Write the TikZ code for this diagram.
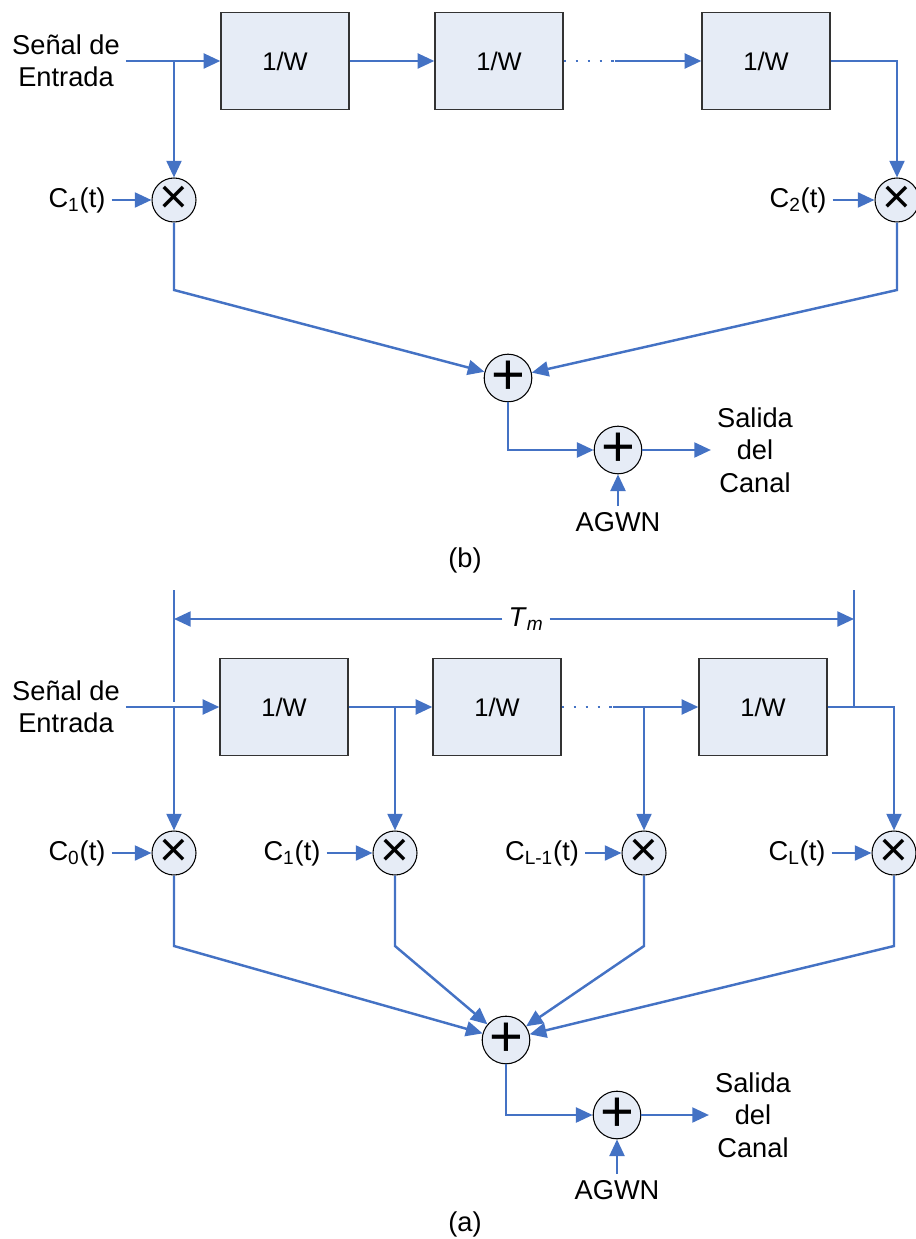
\documentclass[tikz,border=0pt]{standalone}
\usepackage{fontspec}
\setmainfont{Liberation Sans}
\usepackage{tikz}
\usetikzlibrary{arrows.meta}
\definecolor{sigblue}{RGB}{68,114,196}
\definecolor{cellfill}{RGB}{230,236,246}
\tikzset{
  font={\fontsize{15.5pt}{18.5pt}\selectfont}}
\tikzset{
  delay/.style={draw=black!80, fill=cellfill, line width=0.8pt,
    minimum width=2.56cm, minimum height=1.94cm,
    font={\fontsize{14.5pt}{16pt}\selectfont}},
  mult/.style={circle, draw=black, fill=cellfill, line width=0.6pt,
    minimum size=0.88cm, inner sep=0pt},
  sig/.style={draw=sigblue, line width=1.4pt},
  tip/.style={-{Triangle[length=9.5pt,width=8.5pt]}},
  dots/.style={dash pattern={on 1.4pt off 5.4pt}},
  tick/.style={draw=sigblue, line width=0.8pt}}

\begin{document}
\begin{tikzpicture}[x=0.02cm,y=0.02cm]
\useasboundingbox (0,0) rectangle (915,-1239);
% ---- (b) ----
\node [align=center] (inB) at (66,-61) {Señal de\\Entrada};
\node [delay] (b1) at (285,-61) {1/W};
\node [delay] (b2) at (499,-61) {1/W};
\node [delay] (b3) at (766,-61) {1/W};
\coordinate (jB0) at (174,-61);
\coordinate (dB) at (615,-61);
\node [mult] (mB1) at (174,-200) {\fontsize{28pt}{28pt}\selectfont ×};
\node [mult] (mB2) at (897,-200) {\fontsize{28pt}{28pt}\selectfont ×};
\node (cB1) at (77,-200) {C\textsubscript{1}(t)};
\node (cB2) at (798,-200) {C\textsubscript{2}(t)};
\coordinate (kB1) at (174,-290);
\coordinate (kB2) at (897,-290);
\node [mult] (sB) at (508,-378) {\fontsize{33pt}{33pt}\selectfont +};
\node [mult] (nB) at (618,-450) {\fontsize{33pt}{33pt}\selectfont +};
\node [align=center] (outB) at (755,-450) {Salida\\del\\Canal};
\node (agwnB) at (618,-522) {AGWN};
\node (capB) at (465,-560) {(b)};
\draw [sig,tip] (inB.east) -- (b1.west);
\draw [sig,tip] (jB0) -- (mB1);
\draw [sig,tip] (b1) -- (b2);
\draw [sig,dots] (b2) -- (dB);
\draw [sig,tip] (dB) -- (b3);
\draw [sig,tip] (b3.east) -| (mB2);
\draw [sig,tip] (cB1) -- (mB1);
\draw [sig,tip] (cB2) -- (mB2);
\draw [sig,tip] (mB1) -- (kB1) -- (sB);
\draw [sig,tip] (mB2) -- (kB2) -- (sB);
\draw [sig,tip] (sB) |- (nB);
\draw [sig,tip] (nB) -- (outB);
\draw [sig,tip] (agwnB) -- (nB);
% ---- (a) ----
\coordinate (tmL) at (174,-619);
\coordinate (tmR) at (854,-619);
\node [fill=white] (tm) at (526,-619) {\textit{T}\textsubscript{\textit{m}}};
\draw [tick] (174,-590) coordinate (tkL1) -- (174,-702) coordinate (tkL2);
\draw [tick] (854,-590) coordinate (tkR1) -- (854,-707) coordinate (tkR2);
\draw [sig,tip] (tm) -- (tmL);
\draw [sig,tip] (tm) -- (tmR);
\node [align=center] (inA) at (66,-707) {Señal de\\Entrada};
\node [delay] (a1) at (284,-707) {1/W};
\node [delay] (a2) at (497,-707) {1/W};
\node [delay] (a3) at (763,-707) {1/W};
\coordinate (jA0) at (174,-707);
\coordinate (jA1) at (395,-707);
\coordinate (dA) at (613,-707);
\coordinate (jA2) at (644,-707);
\node [mult] (mA0) at (174,-853) {\fontsize{28pt}{28pt}\selectfont ×};
\node [mult] (mA1) at (395,-853) {\fontsize{28pt}{28pt}\selectfont ×};
\node [mult] (mA2) at (644,-853) {\fontsize{28pt}{28pt}\selectfont ×};
\node [mult] (mA3) at (894,-853) {\fontsize{28pt}{28pt}\selectfont ×};
\node (cA0) at (77,-853) {C\textsubscript{0}(t)};
\node (cA1) at (292,-853) {C\textsubscript{1}(t)};
\node (cA2) at (542,-853) {C\textsubscript{L-1}(t)};
\node (cA3) at (797,-853) {C\textsubscript{L}(t)};
\coordinate (kA0) at (174,-946);
\coordinate (kA1) at (395,-946);
\coordinate (kA2) at (644,-946);
\coordinate (kA3) at (894,-946);
\node [mult] (sA) at (506,-1040) {\fontsize{33pt}{33pt}\selectfont +};
\node [mult] (nA) at (617,-1115) {\fontsize{33pt}{33pt}\selectfont +};
\node [align=center] (outA) at (753,-1115) {Salida\\del\\Canal};
\node (agwnA) at (617,-1190) {AGWN};
\node (capA) at (465,-1224) {(a)};
\draw [sig,tip] (inA.east) -- (a1.west);
\draw [sig,tip] (jA0) -- (mA0);
\draw [sig,tip] (a1) -- (a2);
\draw [sig,tip] (jA1) -- (mA1);
\draw [sig,dots] (a2) -- (dA);
\draw [sig,tip] (dA) -- (a3);
\draw [sig,tip] (jA2) -- (mA2);
\draw [sig,tip] (a3.east) -| (mA3);
\draw [sig,tip] (cA0) -- (mA0);
\draw [sig,tip] (cA1) -- (mA1);
\draw [sig,tip] (cA2) -- (mA2);
\draw [sig,tip] (cA3) -- (mA3);
\draw [sig,tip] (mA0) -- (kA0) -- (sA);
\draw [sig,tip] (mA1) -- (kA1) -- (sA);
\draw [sig,tip] (mA2) -- (kA2) -- (sA);
\draw [sig,tip] (mA3) -- (kA3) -- (sA);
\draw [sig,tip] (sA) |- (nA);
\draw [sig,tip] (nA) -- (outA);
\draw [sig,tip] (agwnA) -- (nA);
\end{tikzpicture}
\end{document}
